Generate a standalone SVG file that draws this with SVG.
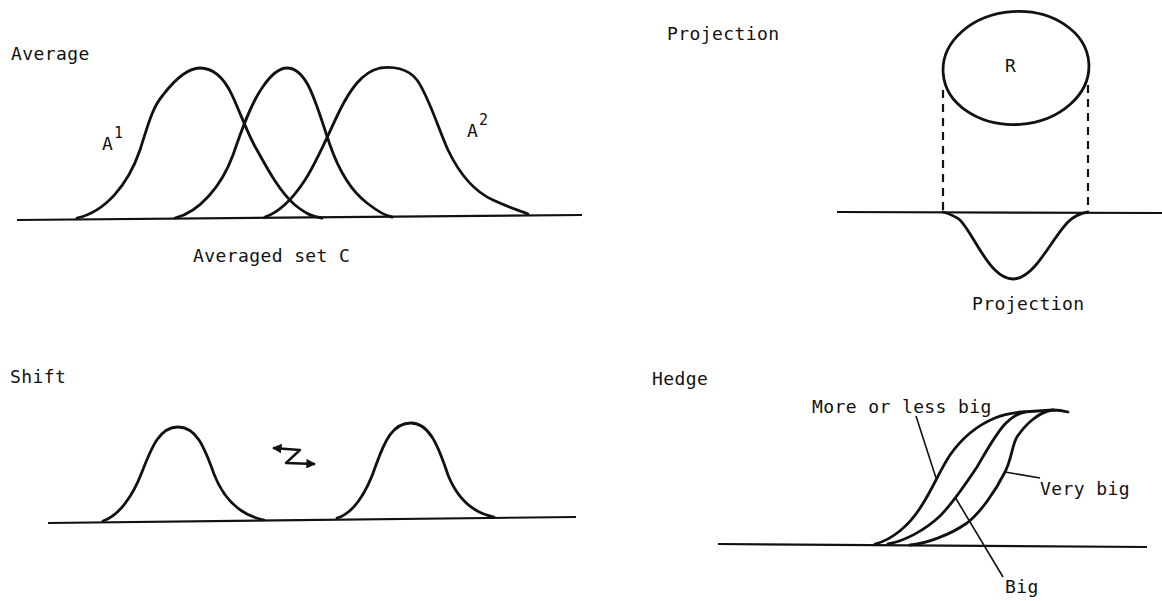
<svg xmlns="http://www.w3.org/2000/svg" width="1162" height="601" viewBox="0 0 1162 601">
<style>
  text { font-family: "DejaVu Sans Mono", "Liberation Mono", monospace; font-size: 18px; fill: #111; letter-spacing: 0.4px; }
  .sup { font-size: 15px; }
  .curve { fill: none; stroke: #111; stroke-width: 2.8; stroke-linecap: round; stroke-linejoin: round; }
  .axis { fill: none; stroke: #111; stroke-width: 2.2; }
  .dash { fill: none; stroke: #111; stroke-width: 2.2; stroke-dasharray: 8 6; }
  .lead { fill: none; stroke: #111; stroke-width: 1.6; }
</style>
<defs>
  <marker id="ah" viewBox="0 0 10 10" refX="9" refY="5" markerWidth="4" markerHeight="4" orient="auto-start-reverse">
    <path d="M0,0 L10,5 L0,10 z" fill="#111"/>
  </marker>
</defs>

<g id="average">
  <text x="11" y="60">Average</text>
  <path class="axis" d="M17,220 L582,215"/>
  <path id="curveA1" class="curve" d="M77,218 C105,212 128,185 140,150 C148,125 152,108 163,95 C173,82 186,68 200,68 C215,68 225,80 232,95 C240,112 248,135 257,150 C268,170 280,192 295,205 C305,213 312,217 322,218"/>
  <path id="curveC" class="curve" d="M175,218 C200,212 222,185 233,155 C240,135 250,105 262,88 C270,76 278,68 287,68 C296,68 302,74 308,85 C316,100 322,122 330,145 C338,168 350,190 367,203 C376,210 385,216 392,217"/>
  <path id="curveA2" class="curve" d="M265,217 C280,212 292,200 305,180 C318,160 330,130 340,110 C350,90 362,72 380,68 C392,66 408,68 417,80 C428,95 437,125 448,150 C460,175 475,192 493,200 C508,207 518,210 528,214"/>
  <text x="102" y="150">A</text><text class="sup" x="114" y="138">1</text>
  <text x="467" y="137">A</text><text class="sup" x="479" y="125">2</text>
  <text x="193" y="262">Averaged set C</text>
</g>

<g id="projection">
  <text x="667" y="40">Projection</text>
  <ellipse cx="1016" cy="68" rx="73" ry="56.5" transform="rotate(-4 1016 68)" class="curve"/>
  <text x="1005" y="72">R</text>
  <path class="dash" d="M943,90 L943,212"/>
  <path class="dash" d="M1088,85 L1088,212"/>
  <path class="axis" d="M837,212 L1162,213"/>
  <path class="curve" d="M943,212 C950,214 955,216 960,220 C970,230 982,258 995,270 C1003,278 1008,279 1013,279 C1020,279 1027,275 1035,266 C1045,255 1058,232 1068,222 C1075,215 1082,213 1088,212"/>
  <text x="972" y="310">Projection</text>
</g>

<g id="shift">
  <text x="10" y="383">Shift</text>
  <path class="axis" d="M48,523 L576,517"/>
  <path class="curve" d="M103,521 C118,516 132,498 142,472 C152,446 160,427 178,427 C196,427 204,446 214,474 C224,500 240,515 264,520"/>
  <path class="curve" d="M337,518 C352,514 366,495 376,465 C385,440 393,423 411,423 C429,423 438,445 448,475 C458,500 474,513 494,517"/>
</g>

<g id="connectors">
  <path fill="none" stroke="#111" stroke-width="2.4" stroke-linejoin="round" d="M273,448 L300,450 L286,463 L315,464" marker-start="url(#ah)" marker-end="url(#ah)"/>
  <path class="lead" d="M916,416 L936,478"/>
  <path class="lead" d="M1005,472 L1040,478"/>
  <path class="lead" d="M955,497 L1003,577"/>
</g>

<g id="hedge">
  <text x="652" y="385">Hedge</text>
  <path class="axis" d="M718,544 L1147,547"/>
  <path class="curve" d="M875,544 C892,540 910,525 922,505 C932,490 940,470 950,455 C962,438 978,425 995,418 C1005,414 1012,413 1022,412 L1053,410"/>
  <path class="curve" d="M888,544 C905,541 925,530 940,516 C952,504 965,485 977,467 C987,450 995,435 1005,424 C1012,417 1018,413 1025,412"/>
  <path class="curve" d="M910,545 C925,544 950,535 967,523 C980,513 995,492 1005,472 C1012,458 1012,445 1017,437 C1025,425 1038,412 1053,410 C1060,410 1064,411 1068,412"/>
  <text x="812" y="413">More or less big</text>
  <text x="1040" y="495">Very big</text>
  <text x="1005" y="593">Big</text>
</g>
</svg>
